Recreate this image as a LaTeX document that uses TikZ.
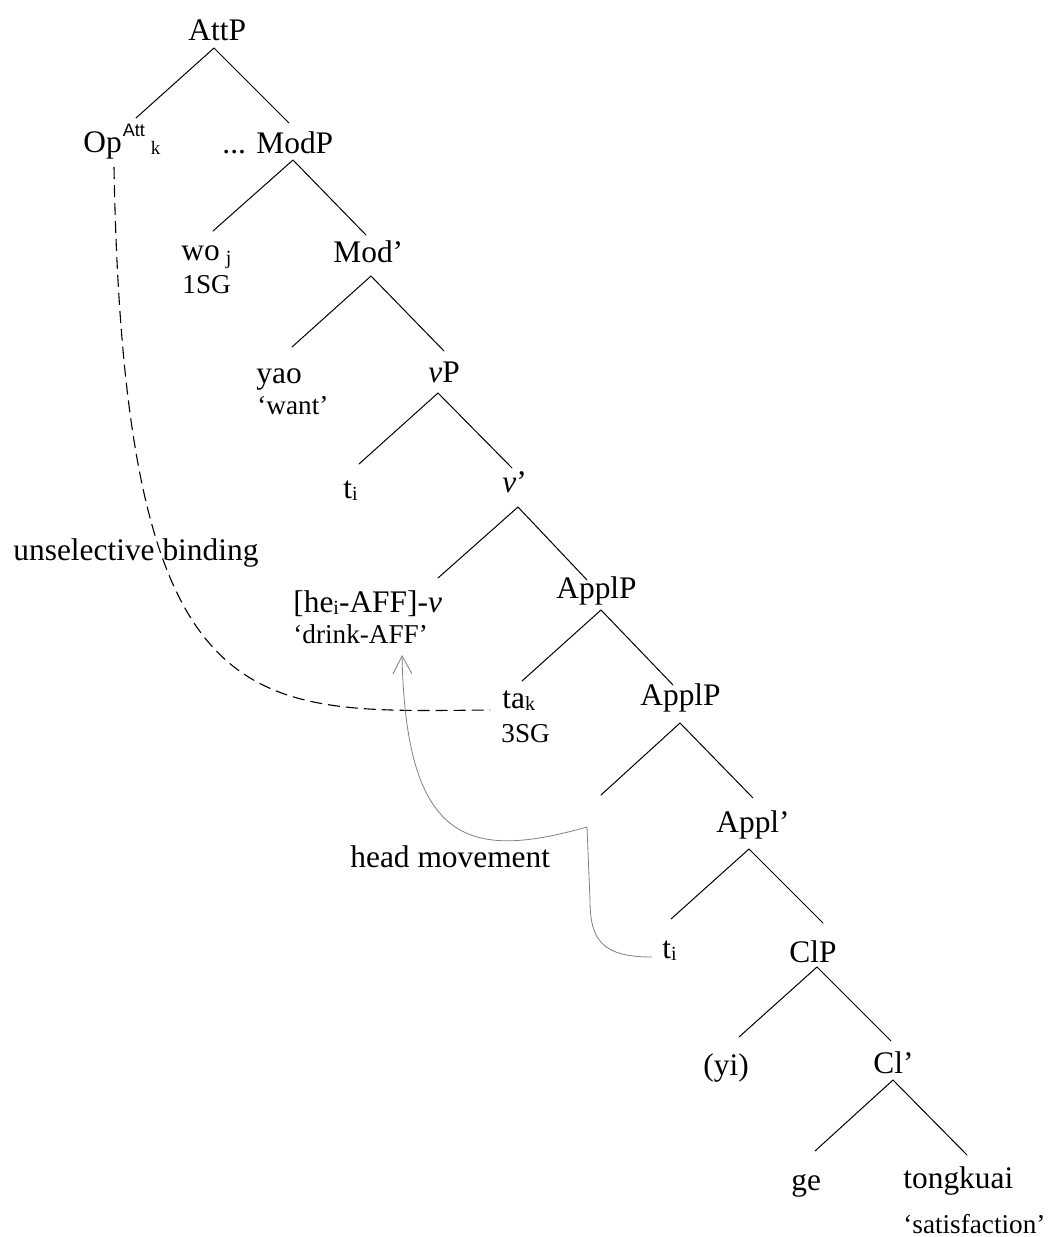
\documentclass[tikz,border=0pt]{standalone}
\usepackage{fontspec}
\setmainfont{Liberation Serif}
\setsansfont{Liberation Sans}
\usetikzlibrary{arrows.meta}
\newcommand\mysub[1]{\raisebox{-1.2pt}{\fontsize{10}{11}\selectfont #1}}
\begin{document}
\begin{tikzpicture}[x=0.5pt,y=-0.5pt,
  lbl/.style={anchor=base west,inner sep=0pt,font=\fontsize{15.7}{18}\selectfont},
  gl/.style={anchor=base west,inner sep=0pt,font=\fontsize{13.6}{16}\selectfont},
  branch/.style={line width=0.5pt,line cap=round},
  binding/.style={line width=0.55pt,dash pattern=on 6pt off 3pt},
  movement/.style={line width=0.4pt,draw=black!50,-{Straight Barb[length=9pt,width=9.5pt]}}]
\useasboundingbox (0,0) rectangle (1048,1237);

% labels
\node[lbl] (AttP) at (188,40) {AttP};
\node[lbl] (Op) at (83,152) {Op\hspace{0.5pt}\raisebox{8pt}{\sffamily\fontsize{9}{10}\selectfont Att}\hspace{3pt}\raisebox{-1pt}{\fontsize{9.5}{10}\selectfont k}};
\node[lbl] (ModP) at (222,153) {... ModP};
\node[lbl] (wo) at (181,260) {wo\hspace{3pt}\raisebox{-2pt}{\fontsize{10}{11}\selectfont j}};
\node[gl] (sg1) at (182,293) {1SG};
\node[lbl] (Modbar) at (333,262) {Mod’};
\node[lbl] (yao) at (256,383) {yao};
\node[gl] (want) at (257,414) {‘want’};
\node[lbl] (vP) at (428,382) {\textit{v}P};
\node[lbl] (t1) at (343,498) {t\mysub{i}};
\node[lbl] (vbar) at (502,492) {\textit{v}’};
\node[lbl] (unsel) at (13,560) {unselective binding};
\node[lbl] (he) at (293,612) {[he\mysub{i}-AFF]-\textit{v}};
\node[gl] (drink) at (293,643) {‘drink-AFF’};
\node[lbl] (ApplPa) at (556,598) {ApplP};
\node[lbl] (ta) at (502,708) {ta\mysub{k}};
\node[gl] (sg3) at (501,742) {3SG};
\node[lbl] (ApplPb) at (640,705) {ApplP};
\node[lbl] (headmov) at (350,867) {head movement};
\node[lbl] (Applbar) at (716,832) {Appl’};
\node[lbl] (t2) at (662,958) {t\mysub{i}};
\node[lbl] (ClP) at (789,962) {ClP};
\node[lbl] (yi) at (703,1075) {(yi)};
\node[lbl] (Clbar) at (873,1073) {Cl’};
\node[lbl] (ge) at (791,1190) {ge};
\node[lbl] (tongkuai) at (903,1188) {tongkuai};
\node[gl] (satis) at (903,1233) {‘satisfaction’};

% branch end points
\coordinate (AttP-b) at (214,48);
\coordinate (Op-t) at (136,118);
\coordinate (ModP-t) at (289,123);
\coordinate (ModP-b) at (293,160);
\coordinate (wo-t) at (213,231);
\coordinate (Modbar-t) at (366,235);
\coordinate (Modbar-b) at (371,276);
\coordinate (yao-t) at (292,347);
\coordinate (vP-t) at (444,351);
\coordinate (vP-b) at (438,393);
\coordinate (t1-t) at (359,464);
\coordinate (vbar-t) at (512,468);
\coordinate (vbar-b) at (518,507);
\coordinate (he-t) at (438,578);
\coordinate (ApplPa-t) at (587,580);
\coordinate (ApplPa-b) at (601,610);
\coordinate (ta-t) at (522,681);
\coordinate (ApplPb-t) at (673,685);
\coordinate (ApplPb-b) at (680,723);
\coordinate (empty-t) at (601,795);
\coordinate (Applbar-t) at (753,798);
\coordinate (Applbar-b) at (749,849);
\coordinate (t2-t) at (671,919);
\coordinate (ClP-t) at (823,923);
\coordinate (ClP-b) at (817,967);
\coordinate (yi-t) at (739,1037);
\coordinate (Clbar-t) at (891,1041);
\coordinate (Clbar-b) at (893,1080);
\coordinate (ge-t) at (815,1151);
\coordinate (tongkuai-t) at (967,1155);

\draw[branch] (Op-t) -- (AttP-b) -- (ModP-t);
\draw[branch] (wo-t) -- (ModP-b) -- (Modbar-t);
\draw[branch] (yao-t) -- (Modbar-b) -- (vP-t);
\draw[branch] (t1-t) -- (vP-b) -- (vbar-t);
\draw[branch] (he-t) -- (vbar-b) -- (ApplPa-t);
\draw[branch] (ta-t) -- (ApplPa-b) -- (ApplPb-t);
\draw[branch] (empty-t) -- (ApplPb-b) -- (Applbar-t);
\draw[branch] (t2-t) -- (Applbar-b) -- (ClP-t);
\draw[branch] (yi-t) -- (ClP-b) -- (Clbar-t);
\draw[branch] (ge-t) -- (Clbar-b) -- (tongkuai-t);

% unselective binding
\coordinate (Op-foot) at (114,167);
\coordinate (ta-w) at (490,710);
\draw[binding] (Op-foot) .. controls (124,730) and (250,712) .. (ta-w);

% head movement
\coordinate (t2-w) at (652,957);
\coordinate (kink) at (587,827);
\coordinate (drink-s) at (402,655);
\draw[movement] (t2-w) .. controls (602,957) and (590,940) .. (590,900) -- (kink)
  .. controls (470,860) and (406,845) .. (drink-s);
\end{tikzpicture}
\end{document}
